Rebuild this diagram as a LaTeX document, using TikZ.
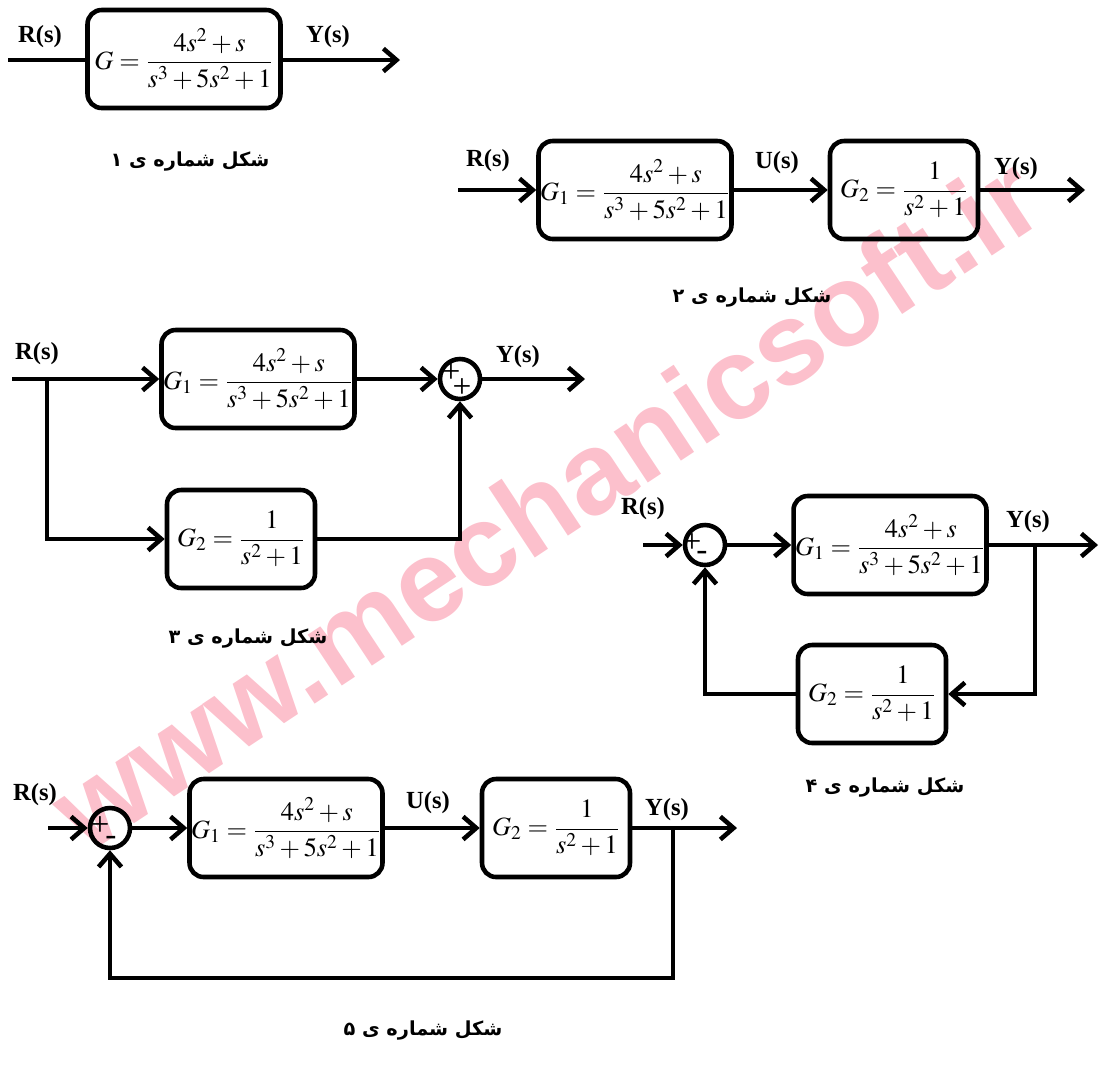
\documentclass[tikz,border=0pt]{standalone}
\usepackage{mathptmx}
\usepackage{fontspec}
\setmainfont{Liberation Serif}
\newfontfamily\arabicfont[Script=Arabic]{DejaVu Sans}
\newfontfamily\wmfont{Liberation Sans}
\usepackage{amsmath}
\usetikzlibrary{arrows.meta}
\TeXXeTstate=1
\definecolor{wmpink}{RGB}{252,192,204}

\begin{document}
\begin{tikzpicture}[x=0.02cm,y=-0.02cm,line width=2.6pt,
	>={Straight Barb[length=7.5pt,width=13pt]}]
	
	\tikzstyle{every node}=[inner sep=0pt]
	\tikzstyle{block}=[draw,rounded corners=8pt,minimum width=3.86cm,minimum height=1.96cm,font=\fontsize{15}{18}\selectfont]
	\tikzstyle{sblock}=[block,minimum width=2.96cm]
	\tikzstyle{summ}=[draw,circle,minimum size=0.8cm]
	\tikzstyle{lbl}=[font=\fontsize{14}{16}\selectfont\bfseries]
	\tikzstyle{sgn}=[font=\fontsize{19}{20}\selectfont]
	\tikzstyle{figcap}=[font=\fontsize{11}{14}\selectfont\arabicfont\bfseries]
	
	\useasboundingbox (0,0) rectangle (1114,1066);
	
	% watermark
	\node[rotate=33.5,text=wmpink,font=\fontsize{66}{66}\selectfont\wmfont\bfseries] (wm) at (545,502) {www.mechanicsoft.ir};
	
	% shekl 1
	\node[block] (g) at (184,59) {$\displaystyle G=\frac{4s^2+s}{s^3+5s^2+1}$};
	\coordinate (r1) at (8,60);
	\coordinate (y1) at (400,60);
	\draw (r1) -- (r1-|g.west);
	\draw[->] (g.east|-y1) -- (y1);
	\node[lbl] (r1l) at (40,37) {R(s)};
	\node[lbl] (y1l) at (328,37) {Y(s)};
	\node[figcap] (cap1) at (190,162) {\beginR شکل شماره ی ۱\endR};
	
	% shekl 2
	\node[block] (g21) at (635,190) {$\displaystyle G_1=\frac{4s^2+s}{s^3+5s^2+1}$};
	\node[sblock] (g22) at (904,190) {$\displaystyle G_2=\frac{1}{s^2+1}$};
	\coordinate (r2) at (458,190);
	\coordinate (y2) at (1085,190);
	\draw[->] (r2) -- (g21);
	\draw[->] (g21) -- (g22);
	\draw[->] (g22) -- (y2);
	\node[lbl] (r2l) at (488,161) {R(s)};
	\node[lbl] (u2l) at (777,163) {U(s)};
	\node[lbl] (y2l) at (1016,169) {Y(s)};
	\node[figcap] (cap2) at (752,298) {\beginR شکل شماره ی ۲\endR};
	
	% shekl 3
	\node[block] (g31) at (258,379) {$\displaystyle G_1=\frac{4s^2+s}{s^3+5s^2+1}$};
	\node[sblock] (g32) at (241,539) {$\displaystyle G_2=\frac{1}{s^2+1}$};
	\node[summ] (s3) at (460,379) {};
	\coordinate (r3) at (12,379);
	\coordinate (b3) at (47,379);
	\coordinate (y3) at (585,379);
	\draw[->] (r3) -- (g31);
	\draw[->] (b3) |- (g32);
	\draw[->] (g31) -- (s3);
	\draw[->] (g32) -| (s3);
	\draw[->] (s3) -- (y3);
	\node[sgn] (p31) at (451,373) {+};
	\node[sgn] (p32) at (462,388) {+};
	\node[lbl] (r3l) at (37,354) {R(s)};
	\node[lbl] (y3l) at (518,357) {Y(s)};
	\node[figcap] (cap3) at (248,638) {\beginR شکل شماره ی ۳\endR};
	
	% shekl 4
	\node[summ] (s4) at (705,545) {};
	\node[block] (g41) at (890,545) {$\displaystyle G_1=\frac{4s^2+s}{s^3+5s^2+1}$};
	\node[sblock] (g42) at (872,694) {$\displaystyle G_2=\frac{1}{s^2+1}$};
	\coordinate (r4) at (643,545);
	\coordinate (b4) at (1035,545);
	\coordinate (y4) at (1098,545);
	\draw[->] (r4) -- (s4);
	\draw[->] (s4) -- (g41);
	\draw[->] (g41) -- (y4);
	\draw[->] (b4) |- (g42);
	\draw[->] (g42) -| (s4);
	\node[sgn] (p41) at (692,543) {+};
	\node[sgn] (m41) at (702,556) {-};
	\node[lbl] (r4l) at (643,509) {R(s)};
	\node[lbl] (y4l) at (1028,522) {Y(s)};
	\node[figcap] (cap4) at (885,787) {\beginR شکل شماره ی ۴\endR};
	
	% shekl 5
	\node[summ] (s5) at (110,828) {};
	\node[block] (g51) at (286,828) {$\displaystyle G_1=\frac{4s^2+s}{s^3+5s^2+1}$};
	\node[sblock] (g52) at (556,828) {$\displaystyle G_2=\frac{1}{s^2+1}$};
	\coordinate (r5) at (48,828);
	\coordinate (b5) at (673,828);
	\coordinate (c5) at (673,978);
	\coordinate (y5) at (737,828);
	\draw[->] (r5) -- (s5);
	\draw[->] (s5) -- (g51);
	\draw[->] (g51) -- (g52);
	\draw[->] (g52) -- (y5);
	\draw[->] (b5) -- (c5) -| (s5);
	\node[sgn] (p51) at (100,826) {+};
	\node[sgn] (m51) at (111,841) {-};
	\node[lbl] (r5l) at (35,795) {R(s)};
	\node[lbl] (u5l) at (428,803) {U(s)};
	\node[lbl] (y5l) at (667,810) {Y(s)};
	\node[figcap] (cap5) at (423,1030) {\beginR شکل شماره ی ۵\endR};
\end{tikzpicture}
\end{document}
